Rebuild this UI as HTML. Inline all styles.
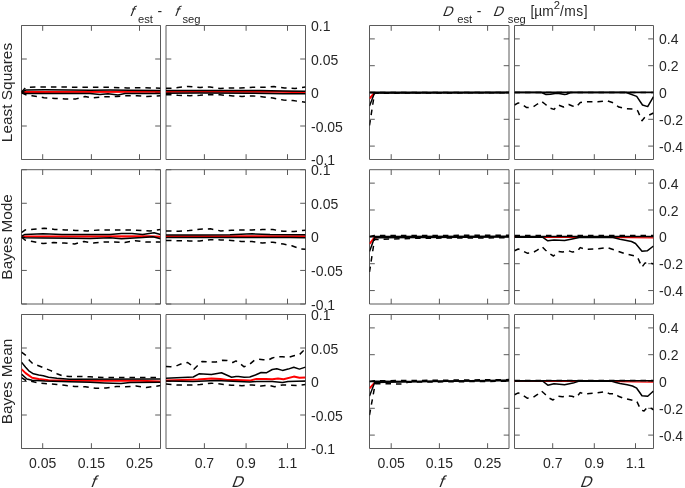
<!DOCTYPE html><html><head><meta charset="utf-8"><style>html,body{margin:0;padding:0;background:#fff;width:685px;height:488px;overflow:hidden}svg{display:block}text{font-family:"Liberation Sans",Arial,Helvetica,sans-serif;fill:#262626}</style></head><body>
<svg width="685" height="488" viewBox="0 0 685 488">
<rect width="685" height="488" fill="#fff"/>
<path d="M21.50 25.50H160.50V159.50H21.50ZM42.70 25.50v5.30M42.70 159.50v-5.30M91.40 25.50v5.30M91.40 159.50v-5.30M139.50 25.50v5.30M139.50 159.50v-5.30M21.50 25.50h5.30M160.50 25.50h-5.30M21.50 59.00h5.30M160.50 59.00h-5.30M21.50 92.50h5.30M160.50 92.50h-5.30M21.50 126.00h5.30M160.50 126.00h-5.30M21.50 159.50h5.30M160.50 159.50h-5.30" fill="none" stroke="#5a5a5a" stroke-width="1"/>
<path d="M166.00 25.50H305.50V159.50H166.00ZM204.40 25.50v5.30M204.40 159.50v-5.30M246.10 25.50v5.30M246.10 159.50v-5.30M287.50 25.50v5.30M287.50 159.50v-5.30M166.00 25.50h5.30M305.50 25.50h-5.30M166.00 59.00h5.30M305.50 59.00h-5.30M166.00 92.50h5.30M305.50 92.50h-5.30M166.00 126.00h5.30M305.50 126.00h-5.30M166.00 159.50h5.30M305.50 159.50h-5.30" fill="none" stroke="#5a5a5a" stroke-width="1"/>
<path d="M369.50 25.50H509.00V159.50H369.50ZM391.20 25.50v5.30M391.20 159.50v-5.30M439.40 25.50v5.30M439.40 159.50v-5.30M487.60 25.50v5.30M487.60 159.50v-5.30M369.50 38.90h5.30M509.00 38.90h-5.30M369.50 65.70h5.30M509.00 65.70h-5.30M369.50 92.50h5.30M509.00 92.50h-5.30M369.50 119.30h5.30M509.00 119.30h-5.30M369.50 146.10h5.30M509.00 146.10h-5.30" fill="none" stroke="#5a5a5a" stroke-width="1"/>
<path d="M514.50 25.50H653.50V159.50H514.50ZM552.70 25.50v5.30M552.70 159.50v-5.30M594.30 25.50v5.30M594.30 159.50v-5.30M635.50 25.50v5.30M635.50 159.50v-5.30M514.50 38.90h5.30M653.50 38.90h-5.30M514.50 65.70h5.30M653.50 65.70h-5.30M514.50 92.50h5.30M653.50 92.50h-5.30M514.50 119.30h5.30M653.50 119.30h-5.30M514.50 146.10h5.30M653.50 146.10h-5.30" fill="none" stroke="#5a5a5a" stroke-width="1"/>
<path d="M21.50 169.70H160.50V304.00H21.50ZM42.70 169.70v5.30M42.70 304.00v-5.30M91.40 169.70v5.30M91.40 304.00v-5.30M139.50 169.70v5.30M139.50 304.00v-5.30M21.50 169.70h5.30M160.50 169.70h-5.30M21.50 203.27h5.30M160.50 203.27h-5.30M21.50 236.85h5.30M160.50 236.85h-5.30M21.50 270.43h5.30M160.50 270.43h-5.30M21.50 304.00h5.30M160.50 304.00h-5.30" fill="none" stroke="#5a5a5a" stroke-width="1"/>
<path d="M166.00 169.70H305.50V304.00H166.00ZM204.40 169.70v5.30M204.40 304.00v-5.30M246.10 169.70v5.30M246.10 304.00v-5.30M287.50 169.70v5.30M287.50 304.00v-5.30M166.00 169.70h5.30M305.50 169.70h-5.30M166.00 203.27h5.30M305.50 203.27h-5.30M166.00 236.85h5.30M305.50 236.85h-5.30M166.00 270.43h5.30M305.50 270.43h-5.30M166.00 304.00h5.30M305.50 304.00h-5.30" fill="none" stroke="#5a5a5a" stroke-width="1"/>
<path d="M369.50 169.70H509.00V304.00H369.50ZM391.20 169.70v5.30M391.20 304.00v-5.30M439.40 169.70v5.30M439.40 304.00v-5.30M487.60 169.70v5.30M487.60 304.00v-5.30M369.50 183.13h5.30M509.00 183.13h-5.30M369.50 209.99h5.30M509.00 209.99h-5.30M369.50 236.85h5.30M509.00 236.85h-5.30M369.50 263.71h5.30M509.00 263.71h-5.30M369.50 290.57h5.30M509.00 290.57h-5.30" fill="none" stroke="#5a5a5a" stroke-width="1"/>
<path d="M514.50 169.70H653.50V304.00H514.50ZM552.70 169.70v5.30M552.70 304.00v-5.30M594.30 169.70v5.30M594.30 304.00v-5.30M635.50 169.70v5.30M635.50 304.00v-5.30M514.50 183.13h5.30M653.50 183.13h-5.30M514.50 209.99h5.30M653.50 209.99h-5.30M514.50 236.85h5.30M653.50 236.85h-5.30M514.50 263.71h5.30M653.50 263.71h-5.30M514.50 290.57h5.30M653.50 290.57h-5.30" fill="none" stroke="#5a5a5a" stroke-width="1"/>
<path d="M21.50 314.50H160.50V448.50H21.50ZM42.70 314.50v5.30M42.70 448.50v-5.30M91.40 314.50v5.30M91.40 448.50v-5.30M139.50 314.50v5.30M139.50 448.50v-5.30M21.50 314.50h5.30M160.50 314.50h-5.30M21.50 348.00h5.30M160.50 348.00h-5.30M21.50 381.50h5.30M160.50 381.50h-5.30M21.50 415.00h5.30M160.50 415.00h-5.30M21.50 448.50h5.30M160.50 448.50h-5.30" fill="none" stroke="#5a5a5a" stroke-width="1"/>
<path d="M166.00 314.50H305.50V448.50H166.00ZM204.40 314.50v5.30M204.40 448.50v-5.30M246.10 314.50v5.30M246.10 448.50v-5.30M287.50 314.50v5.30M287.50 448.50v-5.30M166.00 314.50h5.30M305.50 314.50h-5.30M166.00 348.00h5.30M305.50 348.00h-5.30M166.00 381.50h5.30M305.50 381.50h-5.30M166.00 415.00h5.30M305.50 415.00h-5.30M166.00 448.50h5.30M305.50 448.50h-5.30" fill="none" stroke="#5a5a5a" stroke-width="1"/>
<path d="M369.50 314.50H509.00V448.50H369.50ZM391.20 314.50v5.30M391.20 448.50v-5.30M439.40 314.50v5.30M439.40 448.50v-5.30M487.60 314.50v5.30M487.60 448.50v-5.30M369.50 327.90h5.30M509.00 327.90h-5.30M369.50 354.70h5.30M509.00 354.70h-5.30M369.50 381.50h5.30M509.00 381.50h-5.30M369.50 408.30h5.30M509.00 408.30h-5.30M369.50 435.10h5.30M509.00 435.10h-5.30" fill="none" stroke="#5a5a5a" stroke-width="1"/>
<path d="M514.50 314.50H653.50V448.50H514.50ZM552.70 314.50v5.30M552.70 448.50v-5.30M594.30 314.50v5.30M594.30 448.50v-5.30M635.50 314.50v5.30M635.50 448.50v-5.30M514.50 327.90h5.30M653.50 327.90h-5.30M514.50 354.70h5.30M653.50 354.70h-5.30M514.50 381.50h5.30M653.50 381.50h-5.30M514.50 408.30h5.30M653.50 408.30h-5.30M514.50 435.10h5.30M653.50 435.10h-5.30" fill="none" stroke="#5a5a5a" stroke-width="1"/>
<clipPath id="c00"><rect x="21.50" y="25.50" width="139.00" height="134.00"/></clipPath>
<clipPath id="c01"><rect x="166.00" y="25.50" width="139.50" height="134.00"/></clipPath>
<clipPath id="c02"><rect x="369.50" y="25.50" width="139.50" height="134.00"/></clipPath>
<clipPath id="c03"><rect x="514.50" y="25.50" width="139.00" height="134.00"/></clipPath>
<clipPath id="c10"><rect x="21.50" y="169.70" width="139.00" height="134.30"/></clipPath>
<clipPath id="c11"><rect x="166.00" y="169.70" width="139.50" height="134.30"/></clipPath>
<clipPath id="c12"><rect x="369.50" y="169.70" width="139.50" height="134.30"/></clipPath>
<clipPath id="c13"><rect x="514.50" y="169.70" width="139.00" height="134.30"/></clipPath>
<clipPath id="c20"><rect x="21.50" y="314.50" width="139.00" height="134.00"/></clipPath>
<clipPath id="c21"><rect x="166.00" y="314.50" width="139.50" height="134.00"/></clipPath>
<clipPath id="c22"><rect x="369.50" y="314.50" width="139.50" height="134.00"/></clipPath>
<clipPath id="c23"><rect x="514.50" y="314.50" width="139.00" height="134.00"/></clipPath>
<g clip-path="url(#c00)" fill="none" stroke-linejoin="round"><path d="M21.5 92.4 L26.0 91.9 L160.5 91.8" stroke="#ff0000" stroke-width="2"/><path d="M21.5 92.2 L26.0 90.0 L45.0 89.8 L70.0 90.0 L90.0 90.2 L110.0 90.0 L130.0 90.2 L160.5 90.4" stroke="#000" stroke-width="1.5"/><path d="M21.5 92.6 L26.0 93.5 L60.0 93.6 L90.0 93.5 L100.0 94.5 L108.0 93.8 L118.0 95.0 L125.0 93.6 L160.5 93.4" stroke="#000" stroke-width="1.5"/><path d="M21.5 92.0 L26.0 87.2 L40.0 87.0 L60.0 87.0 L80.0 87.3 L94.0 87.2 L110.0 87.3 L127.0 87.9 L145.0 87.8 L160.5 88.2" stroke="#000" stroke-width="1.5" stroke-dasharray="5.5 5"/><path d="M21.5 92.8 L27.0 95.3 L32.0 95.8 L44.0 97.7 L55.0 98.4 L65.0 98.9 L76.0 98.9 L85.0 96.5 L93.0 97.9 L105.0 96.8 L117.0 96.5 L125.0 95.8 L137.0 95.8 L147.0 96.5 L160.5 95.8" stroke="#000" stroke-width="1.5" stroke-dasharray="5.5 5"/></g>
<g clip-path="url(#c01)" fill="none" stroke-linejoin="round"><path d="M166.0 91.7 L280.0 91.7 L305.5 92.3" stroke="#ff0000" stroke-width="2"/><path d="M166.0 90.6 L200.0 90.4 L230.0 90.4 L260.0 90.4 L283.0 91.0 L305.5 91.3" stroke="#000" stroke-width="1.5"/><path d="M166.0 93.2 L200.0 93.1 L250.0 93.2 L283.4 93.7 L305.5 93.7" stroke="#000" stroke-width="1.5"/><path d="M166.0 88.2 L171.0 88.2 L178.0 87.5 L188.0 86.4 L200.0 87.5 L210.0 87.0 L220.0 88.5 L231.0 88.0 L240.3 88.0 L252.9 87.3 L263.4 87.3 L274.0 86.6 L284.5 88.0 L295.0 88.5 L305.5 87.0" stroke="#000" stroke-width="1.5" stroke-dasharray="5.5 5"/><path d="M166.0 94.8 L171.0 94.8 L178.0 95.3 L190.0 95.7 L200.0 95.3 L210.0 94.6 L220.0 94.8 L233.0 95.9 L237.0 95.9 L242.0 96.4 L253.0 95.9 L263.4 96.9 L272.9 98.0 L283.4 100.1 L292.9 100.6 L305.5 102.2" stroke="#000" stroke-width="1.5" stroke-dasharray="5.5 5"/></g>
<g clip-path="url(#c02)" fill="none" stroke-linejoin="round"><path d="M369.5 98.5 L374.5 93.0 L376.0 92.6" stroke="#ff0000" stroke-width="2"/><path d="M369.5 92.5 L509.0 92.5" stroke="#000" stroke-width="1.8"/><path d="M369.5 106.0 L374.5 93.0 L509.0 92.6" stroke="#000" stroke-width="1.5"/><path d="M369.5 92.5 L509.0 92.5" stroke="#000" stroke-width="1.5" stroke-dasharray="5.5 5"/><path d="M369.5 125.5 L374.5 93.2 L509.0 92.7" stroke="#000" stroke-width="1.5" stroke-dasharray="5.5 5"/></g>
<g clip-path="url(#c03)" fill="none" stroke-linejoin="round"><path d="M514.5 92.4 L653.5 92.4" stroke="#000" stroke-width="1.6"/><path d="M514.5 92.5 L541.5 92.5 L546.0 94.5 L550.5 94.3 L555.0 93.4 L559.0 93.4 L564.5 94.4 L566.5 94.3 L570.5 92.5 L626.2 92.5 L636.7 96.4 L642.5 105.0 L647.7 106.6 L653.5 96.6" stroke="#000" stroke-width="1.5"/><path d="M514.5 92.4 L653.5 92.4" stroke="#000" stroke-width="1.5" stroke-dasharray="5.5 5"/><path d="M514.5 105.0 L518.3 102.9 L523.6 105.5 L526.7 107.6 L533.0 107.0 L536.7 104.5 L541.4 101.3 L545.6 104.5 L549.9 108.1 L554.0 109.4 L558.3 105.0 L563.5 107.0 L568.8 104.5 L572.5 106.0 L576.1 107.1 L580.3 102.4 L584.1 101.8 L597.8 101.8 L607.2 100.8 L613.5 102.9 L618.8 107.1 L626.2 108.7 L634.6 109.0 L637.7 110.8 L642.0 120.7 L645.0 117.0 L649.3 115.0 L653.5 113.0" stroke="#000" stroke-width="1.5" stroke-dasharray="5.5 5"/></g>
<g clip-path="url(#c10)" fill="none" stroke-linejoin="round"><path d="M21.5 236.6 L25.0 236.5 L150.0 236.2 L160.5 236.7" stroke="#ff0000" stroke-width="2"/><path d="M21.5 236.2 L25.0 234.4 L43.0 233.8 L62.0 234.4 L110.0 234.4 L121.5 233.4 L132.0 233.6 L142.6 234.6 L154.1 232.8 L160.5 234.4" stroke="#000" stroke-width="1.5"/><path d="M21.5 236.9 L25.0 237.8 L43.0 238.0 L72.6 238.3 L90.0 238.6 L110.0 237.8 L121.5 238.8 L142.6 237.6 L153.0 236.7 L160.5 238.8" stroke="#000" stroke-width="1.5"/><path d="M21.5 232.6 L25.3 229.9 L33.7 229.2 L44.2 228.3 L54.7 229.4 L65.2 229.9 L75.7 230.4 L87.3 230.9 L100.0 229.9 L130.0 229.9 L150.0 230.9 L160.5 229.6" stroke="#000" stroke-width="1.5" stroke-dasharray="5.5 5"/><path d="M21.5 237.2 L25.0 240.0 L32.6 241.5 L43.1 243.6 L53.6 242.5 L64.2 243.0 L74.7 243.9 L84.1 241.5 L93.2 243.0 L103.7 242.0 L114.2 242.0 L124.7 242.5 L135.2 240.7 L145.7 242.0 L160.5 242.0" stroke="#000" stroke-width="1.5" stroke-dasharray="5.5 5"/></g>
<g clip-path="url(#c11)" fill="none" stroke-linejoin="round"><path d="M166.0 236.2 L305.5 236.2" stroke="#ff0000" stroke-width="2"/><path d="M166.0 235.1 L200.0 235.0 L230.0 234.8 L252.0 233.8 L270.0 234.6 L305.5 234.8" stroke="#000" stroke-width="1.5"/><path d="M166.0 237.6 L240.0 237.6 L290.0 237.6 L305.5 237.8" stroke="#000" stroke-width="1.5"/><path d="M166.0 230.9 L168.2 230.9 L178.7 231.3 L189.2 230.6 L199.8 229.2 L210.3 228.8 L220.8 230.9 L231.3 230.2 L241.4 230.1 L251.9 229.9 L262.4 229.6 L272.9 229.6 L283.4 231.3 L294.0 231.5 L305.5 230.2" stroke="#000" stroke-width="1.5" stroke-dasharray="5.5 5"/><path d="M166.0 240.4 L178.7 240.7 L189.2 240.9 L199.8 240.9 L210.3 239.7 L220.8 239.9 L231.3 240.4 L241.4 241.5 L251.9 241.5 L262.4 243.0 L272.9 242.2 L283.4 244.1 L291.8 245.7 L300.2 248.8 L305.5 249.3" stroke="#000" stroke-width="1.5" stroke-dasharray="5.5 5"/></g>
<g clip-path="url(#c12)" fill="none" stroke-linejoin="round"><path d="M369.5 244.0 L374.0 238.0 L377.0 237.2" stroke="#ff0000" stroke-width="2"/><path d="M369.5 236.8 L374.5 236.5 L509.0 236.3" stroke="#000" stroke-width="1.5"/><path d="M369.5 251.5 L374.5 237.8 L509.0 237.0" stroke="#000" stroke-width="1.5"/><path d="M369.5 236.5 L374.5 235.5 L509.0 235.3" stroke="#000" stroke-width="1.5" stroke-dasharray="5.5 5"/><path d="M369.5 272.0 L374.5 239.5 L392.0 239.0 L420.0 238.2 L509.0 237.8" stroke="#000" stroke-width="1.5" stroke-dasharray="5.5 5"/></g>
<g clip-path="url(#c13)" fill="none" stroke-linejoin="round"><path d="M514.5 236.8 L542.5 237.2 L578.2 237.2 L606.2 237.4 L653.5 237.9" stroke="#ff0000" stroke-width="1.4"/><path d="M514.5 236.6 L653.5 236.6" stroke="#000" stroke-width="1.5"/><path d="M514.5 237.2 L542.5 237.2 L547.8 240.8 L554.0 240.0 L564.6 240.6 L570.9 239.2 L579.3 237.4 L612.0 237.3 L616.0 238.3 L620.0 239.3 L624.0 240.0 L631.5 241.5 L635.5 243.5 L642.0 251.3 L647.2 250.8 L653.5 246.0" stroke="#000" stroke-width="1.5"/><path d="M514.5 235.5 L653.5 235.5" stroke="#000" stroke-width="1.5" stroke-dasharray="5.5 5"/><path d="M514.5 250.8 L518.3 249.0 L523.6 251.3 L527.2 253.2 L533.0 252.5 L537.2 250.2 L542.0 246.6 L545.6 250.2 L549.9 253.9 L553.5 256.0 L558.3 251.5 L562.5 252.1 L568.8 250.8 L572.5 252.1 L577.2 251.1 L580.3 247.6 L585.2 249.2 L596.7 249.0 L607.2 247.6 L616.7 250.8 L624.1 253.4 L634.6 256.0 L637.7 257.6 L642.0 267.1 L645.1 262.9 L649.3 262.9 L653.5 263.9" stroke="#000" stroke-width="1.5" stroke-dasharray="5.5 5"/></g>
<g clip-path="url(#c20)" fill="none" stroke-linejoin="round"><path d="M21.5 369.2 L25.6 373.1 L32.1 377.7 L38.7 379.0 L48.5 380.3 L69.2 380.8 L140.0 380.8 L160.5 381.6" stroke="#ff0000" stroke-width="2"/><path d="M21.5 362.3 L25.6 367.2 L28.8 370.8 L33.4 373.8 L38.7 375.1 L43.3 375.7 L48.5 377.2 L56.9 378.3 L69.2 379.2 L160.5 379.0" stroke="#000" stroke-width="1.5"/><path d="M21.5 374.1 L26.9 379.0 L32.1 380.3 L45.0 381.0 L69.2 381.7 L90.0 382.3 L104.6 383.0 L121.0 383.5 L130.0 382.5 L160.5 382.3" stroke="#000" stroke-width="1.5"/><path d="M21.5 352.1 L25.5 355.2 L29.8 360.8 L32.9 363.8 L38.5 365.7 L44.6 368.1 L50.8 370.6 L56.9 373.7 L63.0 376.1 L69.2 376.4 L75.0 376.4 L90.0 376.7 L105.0 377.6 L160.5 377.6" stroke="#000" stroke-width="1.5" stroke-dasharray="5.5 5"/><path d="M21.5 377.7 L26.0 380.5 L31.0 381.3 L38.5 383.0 L44.6 383.5 L56.9 384.5 L64.5 385.3 L74.9 386.5 L85.3 386.8 L95.7 388.3 L106.1 388.0 L116.5 386.5 L125.5 386.8 L135.9 386.0 L146.3 387.5 L160.5 385.6" stroke="#000" stroke-width="1.5" stroke-dasharray="5.5 5"/></g>
<g clip-path="url(#c21)" fill="none" stroke-linejoin="round"><path d="M166.0 380.4 L197.8 379.5 L211.4 378.6 L220.4 378.9 L227.1 380.0 L236.0 380.0 L249.8 380.6 L256.5 378.9 L265.6 378.9 L272.3 379.2 L278.0 378.6 L283.6 379.2 L293.8 376.6 L299.4 377.8 L305.5 377.4" stroke="#ff0000" stroke-width="2"/><path d="M166.0 378.3 L193.3 377.0 L199.0 373.8 L211.4 374.4 L221.5 372.7 L231.6 377.2 L236.0 376.6 L238.5 376.6 L244.1 377.2 L249.8 377.0 L255.4 375.0 L261.1 372.5 L266.7 372.7 L272.3 369.5 L276.8 368.7 L282.5 370.4 L288.1 369.1 L293.8 367.3 L299.4 369.1 L305.5 367.1" stroke="#000" stroke-width="1.5"/><path d="M166.0 381.1 L193.0 381.5 L215.9 380.6 L227.0 381.1 L249.8 381.9 L256.5 381.5 L272.3 381.5 L282.5 382.6 L288.1 381.5 L305.5 381.1" stroke="#000" stroke-width="1.5"/><path d="M166.0 366.5 L170.8 366.7 L177.5 365.4 L182.0 363.5 L187.7 362.5 L190.5 364.6 L193.9 369.3 L197.8 365.4 L202.3 361.4 L209.1 362.0 L215.9 362.0 L222.6 360.3 L227.1 360.5 L232.8 362.5 L236.0 360.9 L238.5 362.5 L244.1 366.8 L249.8 364.2 L254.3 360.3 L258.8 359.2 L263.3 359.7 L267.8 360.3 L272.3 358.0 L276.8 356.7 L282.5 356.7 L288.1 357.5 L293.8 355.8 L299.4 354.7 L302.8 351.3 L305.5 349.0" stroke="#000" stroke-width="1.5" stroke-dasharray="5.5 5"/><path d="M166.0 384.0 L178.7 385.1 L188.8 385.1 L200.1 384.5 L211.4 383.2 L220.4 384.0 L231.6 385.3 L236.3 385.1 L241.9 385.7 L252.0 384.9 L261.1 386.0 L267.8 385.1 L274.6 386.8 L282.5 384.9 L290.4 385.3 L297.1 385.4 L305.5 384.5" stroke="#000" stroke-width="1.5" stroke-dasharray="5.5 5"/></g>
<g clip-path="url(#c22)" fill="none" stroke-linejoin="round"><path d="M369.5 388.4 L374.7 382.6 L377.0 381.9" stroke="#ff0000" stroke-width="2"/><path d="M369.5 381.6 L374.5 381.3 L410.0 381.5 L509.0 380.3" stroke="#000" stroke-width="1.5"/><path d="M369.5 396.1 L374.7 382.5 L410.0 381.8 L509.0 380.6" stroke="#000" stroke-width="1.5"/><path d="M369.5 381.5 L374.5 380.8 L410.0 380.5 L509.0 379.6" stroke="#000" stroke-width="1.5" stroke-dasharray="5.5 5"/><path d="M369.5 415.0 L375.2 383.8 L402.0 383.9 L408.0 382.2 L509.0 381.2" stroke="#000" stroke-width="1.5" stroke-dasharray="5.5 5"/></g>
<g clip-path="url(#c23)" fill="none" stroke-linejoin="round"><path d="M514.5 381.0 L542.5 381.3 L608.0 381.4 L635.0 381.8 L653.5 382.2" stroke="#ff0000" stroke-width="1.3"/><path d="M514.5 380.7 L653.5 380.7" stroke="#000" stroke-width="1.5"/><path d="M514.5 381.0 L542.5 381.0 L547.8 385.2 L554.0 383.7 L564.6 384.7 L573.0 383.1 L579.3 381.0 L612.0 381.2 L616.0 382.6 L620.0 383.6 L627.2 384.8 L632.5 386.0 L636.7 388.2 L642.0 395.8 L647.7 396.3 L653.5 391.0" stroke="#000" stroke-width="1.5"/><path d="M514.5 380.5 L653.5 380.5" stroke="#000" stroke-width="1.5" stroke-dasharray="5.5 5"/><path d="M514.5 394.7 L518.3 392.9 L523.6 395.8 L527.2 398.2 L533.0 397.5 L537.2 394.7 L541.4 391.0 L544.6 393.7 L548.8 397.9 L553.0 400.0 L558.3 396.3 L562.5 396.8 L567.7 395.8 L571.9 396.3 L576.1 397.5 L580.3 392.6 L585.2 394.0 L596.7 392.9 L605.1 391.6 L609.3 393.7 L615.6 393.7 L618.3 396.3 L624.1 398.4 L632.5 400.3 L636.7 401.0 L640.9 410.0 L644.0 411.0 L647.2 407.3 L651.4 408.4 L653.5 410.0" stroke="#000" stroke-width="1.5" stroke-dasharray="5.5 5"/></g>
<text x="311.00" y="26.05" font-size="14" dominant-baseline="central">0.1</text>
<text x="311.00" y="59.55" font-size="14" dominant-baseline="central">0.05</text>
<text x="311.00" y="93.05" font-size="14" dominant-baseline="central">0</text>
<text x="311.00" y="126.55" font-size="14" dominant-baseline="central">-0.05</text>
<text x="311.00" y="160.05" font-size="14" dominant-baseline="central">-0.1</text>
<text x="659.00" y="39.45" font-size="14" dominant-baseline="central">0.4</text>
<text x="659.00" y="66.25" font-size="14" dominant-baseline="central">0.2</text>
<text x="659.00" y="93.05" font-size="14" dominant-baseline="central">0</text>
<text x="659.00" y="119.85" font-size="14" dominant-baseline="central">-0.2</text>
<text x="659.00" y="146.65" font-size="14" dominant-baseline="central">-0.4</text>
<text x="311.00" y="170.25" font-size="14" dominant-baseline="central">0.1</text>
<text x="311.00" y="203.82" font-size="14" dominant-baseline="central">0.05</text>
<text x="311.00" y="237.40" font-size="14" dominant-baseline="central">0</text>
<text x="311.00" y="270.98" font-size="14" dominant-baseline="central">-0.05</text>
<text x="311.00" y="304.55" font-size="14" dominant-baseline="central">-0.1</text>
<text x="659.00" y="183.68" font-size="14" dominant-baseline="central">0.4</text>
<text x="659.00" y="210.54" font-size="14" dominant-baseline="central">0.2</text>
<text x="659.00" y="237.40" font-size="14" dominant-baseline="central">0</text>
<text x="659.00" y="264.26" font-size="14" dominant-baseline="central">-0.2</text>
<text x="659.00" y="291.12" font-size="14" dominant-baseline="central">-0.4</text>
<text x="311.00" y="315.05" font-size="14" dominant-baseline="central">0.1</text>
<text x="311.00" y="348.55" font-size="14" dominant-baseline="central">0.05</text>
<text x="311.00" y="382.05" font-size="14" dominant-baseline="central">0</text>
<text x="311.00" y="415.55" font-size="14" dominant-baseline="central">-0.05</text>
<text x="311.00" y="449.05" font-size="14" dominant-baseline="central">-0.1</text>
<text x="659.00" y="328.45" font-size="14" dominant-baseline="central">0.4</text>
<text x="659.00" y="355.25" font-size="14" dominant-baseline="central">0.2</text>
<text x="659.00" y="382.05" font-size="14" dominant-baseline="central">0</text>
<text x="659.00" y="408.85" font-size="14" dominant-baseline="central">-0.2</text>
<text x="659.00" y="435.65" font-size="14" dominant-baseline="central">-0.4</text>
<text x="42.70" y="467.60" font-size="14" text-anchor="middle">0.05</text>
<text x="91.40" y="467.60" font-size="14" text-anchor="middle">0.15</text>
<text x="139.50" y="467.60" font-size="14" text-anchor="middle">0.25</text>
<text x="204.40" y="467.60" font-size="14" text-anchor="middle">0.7</text>
<text x="246.10" y="467.60" font-size="14" text-anchor="middle">0.9</text>
<text x="287.50" y="467.60" font-size="14" text-anchor="middle">1.1</text>
<text x="391.20" y="467.60" font-size="14" text-anchor="middle">0.05</text>
<text x="439.40" y="467.60" font-size="14" text-anchor="middle">0.15</text>
<text x="487.60" y="467.60" font-size="14" text-anchor="middle">0.25</text>
<text x="552.70" y="467.60" font-size="14" text-anchor="middle">0.7</text>
<text x="594.30" y="467.60" font-size="14" text-anchor="middle">0.9</text>
<text x="635.50" y="467.60" font-size="14" text-anchor="middle">1.1</text>
<text transform="translate(89.90 486.70) skewX(-21)" font-size="16.2">f</text>
<text transform="translate(230.90 486.70) skewX(-21)" font-size="15.6">D</text>
<text transform="translate(437.90 486.70) skewX(-21)" font-size="16.2">f</text>
<text transform="translate(579.40 486.70) skewX(-21)" font-size="15.6">D</text>
<text transform="translate(12.4 92.50) rotate(-90)" font-size="15.4" text-anchor="middle">Least Squares</text>
<text transform="translate(12.4 236.85) rotate(-90)" font-size="15.4" text-anchor="middle">Bayes Mode</text>
<text transform="translate(12.4 381.50) rotate(-90)" font-size="15.4" text-anchor="middle">Bayes Mean</text>
<text transform="translate(129.30 15.80) skewX(-21)" font-size="14.2">f</text>
<text x="138" y="22.7" font-size="11.2">est</text>
<text x="157.6" y="15.7" font-size="13.8">-</text>
<text transform="translate(173.90 15.80) skewX(-21)" font-size="14.2">f</text>
<text x="182.5" y="22.7" font-size="11.2">seg</text>
<text transform="translate(442.00 15.70) skewX(-21)" font-size="13.8">D</text>
<text x="457.3" y="22.7" font-size="11.2">est</text>
<text x="476.8" y="15.7" font-size="13.8">-</text>
<text transform="translate(492.50 15.70) skewX(-21)" font-size="13.8">D</text>
<text x="507.8" y="22.7" font-size="11.2">seg</text>
<text y="15.7" font-size="13.8"><tspan x="530.4">[µm</tspan><tspan dy="-6.6" font-size="11.2">2</tspan><tspan dy="6.6" letter-spacing="0.55">/ms]</tspan></text>
</svg></body></html>
